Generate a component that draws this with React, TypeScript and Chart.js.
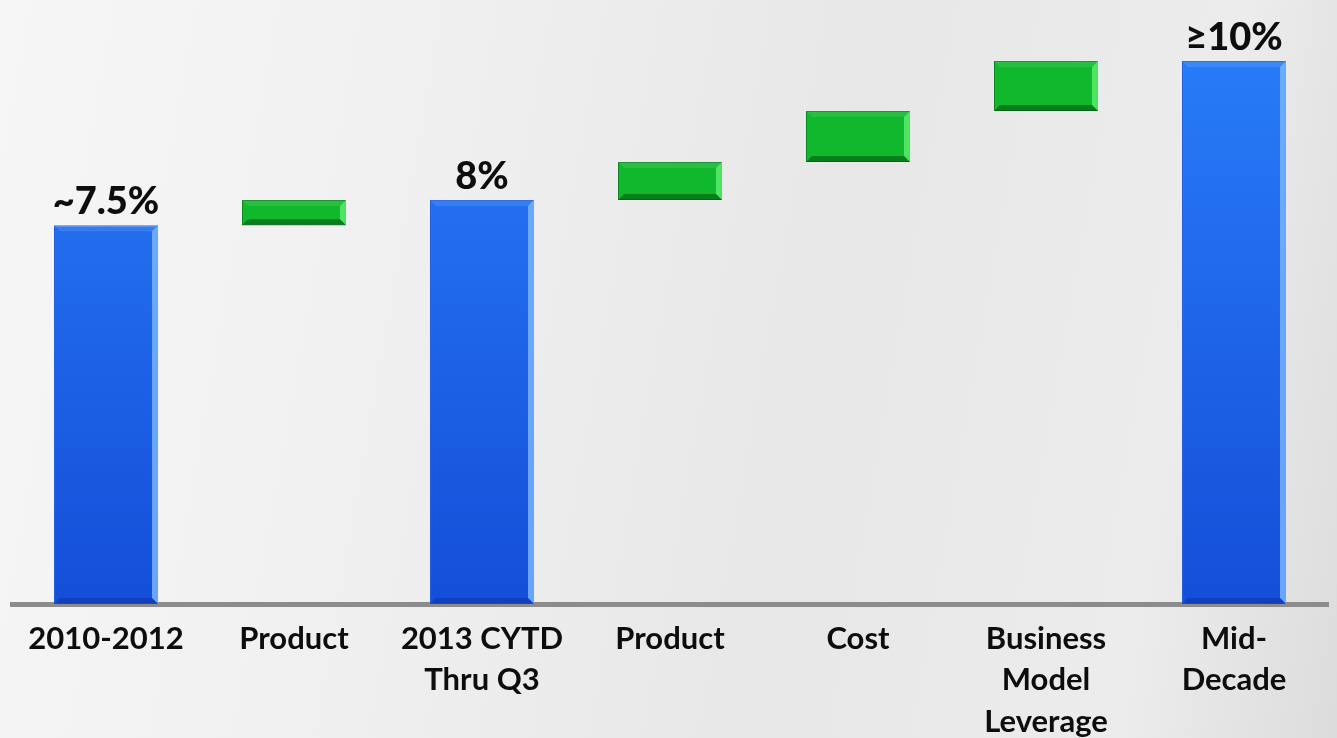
import React, { useEffect, useRef } from "react";
import { Chart, registerables } from "chart.js";

Chart.register(...registerables);

const categories: string[][] = [
  ["2010-2012"],
  ["Product"],
  ["2013 CYTD", "Thru Q3"],
  ["Product"],
  ["Cost"],
  ["Business", "Model", "Leverage"],
  ["Mid-", "Decade"],
];
const barStart = [0, 7.5, 0, 8.0, 8.75, 9.76, 0];
const barEnd = [7.5, 8.0, 8.0, 8.75, 9.76, 10.75, 10.75];
const barKind = ["total", "step", "total", "step", "step", "step", "total"];
const valueLabels = ["~7.5%", "", "8%", "", "", "", "≥10%"];

const FONT = "Lato, 'Open Sans', sans-serif";

export default function App() {
  const ref = useRef<HTMLCanvasElement | null>(null);

  useEffect(() => {
    document.body.style.margin = "0";
    const canvas = ref.current;
    if (!canvas) return;

    const fillFor = (ctx: any) => {
      const chart = ctx.chart;
      const area = chart.chartArea;
      const kind = barKind[ctx.dataIndex];
      if (!area) return kind === "total" ? "#2a7ff8" : "#10b52c";
      if (kind === "total") {
        const g = chart.ctx.createLinearGradient(0, area.top, 0, area.bottom);
        g.addColorStop(0, "#2a80fb");
        g.addColorStop(1, "#144ed8");
        return g;
      }
      return "#0fb82c";
    };

    const bevelPlugin = {
      id: "bevel",
      afterDatasetsDraw(chart: any) {
        const meta = chart.getDatasetMeta(0);
        const c = chart.ctx;
        meta.data.forEach((bar: any, i: number) => {
          const { x, y, base, width } = bar.getProps(["x", "y", "base", "width"], true);
          const left = x - width / 2;
          const right = x + width / 2;
          const top = Math.min(y, base);
          const bottom = Math.max(y, base);
          const kind = barKind[i];
          const light = kind === "total" ? "rgba(120,180,255,0.85)" : "rgba(90,235,110,0.85)";
          const dark = kind === "total" ? "rgba(10,40,140,0.35)" : "rgba(0,80,15,0.55)";
          const bw = 6;
          c.save();
          c.fillStyle = light;
          c.beginPath();
          c.moveTo(right, top);
          c.lineTo(right, bottom);
          c.lineTo(right - bw, bottom - bw);
          c.lineTo(right - bw, top + bw);
          c.closePath();
          c.fill();
          c.fillStyle = dark;
          c.beginPath();
          c.moveTo(left, bottom);
          c.lineTo(right, bottom);
          c.lineTo(right - bw, bottom - bw);
          c.lineTo(left + bw, bottom - bw);
          c.closePath();
          c.fill();
          c.fillStyle = "rgba(255,255,255,0.1)";
          c.beginPath();
          c.moveTo(left, top);
          c.lineTo(right, top);
          c.lineTo(right - bw, top + bw);
          c.lineTo(left + bw, top + bw);
          c.closePath();
          c.fill();
          c.restore();

          const label = valueLabels[i];
          if (label) {
            c.save();
            c.font = `900 38px ${FONT}`;
            c.fillStyle = "#0d0d0d";
            c.textAlign = "center";
            c.textBaseline = "alphabetic";
            c.fillText(label, x, top - 11);
            c.restore();
          }
        });
      },
    };

    const chart = new Chart(canvas, {
      type: "bar",
      data: {
        labels: categories,
        datasets: [
          {
            data: barStart.map((s, i) => [s, barEnd[i]]),
            backgroundColor: fillFor,
            borderColor: (ctx: any) => (barKind[ctx.dataIndex] === "total" ? "#1a5fe0" : "#08861f"),
            borderWidth: 1,
            borderSkipped: false,
            barPercentage: 0.553,
            categoryPercentage: 1,
          },
        ],
      },
      options: {
        responsive: false,
        animation: false,
        maintainAspectRatio: false,
        layout: { padding: { left: 12, right: 9, top: 3, bottom: 0 } },
        plugins: {
          legend: { display: false },
          tooltip: { enabled: false },
        },
        scales: {
          x: {
            grid: { display: false },
            border: { display: true, color: "#8c8c8c", width: 5 },
            ticks: {
              color: "#0d0d0d",
              font: { family: FONT, size: 31, weight: "bold", lineHeight: 1.34 },
              padding: 6,
              maxRotation: 0,
              autoSkip: false,
            },
            afterFit: (scale: any) => {
              scale.height = 134;
            },
          },
          y: {
            display: false,
            min: 0,
            max: 11.9,
          },
        },
      },
      plugins: [bevelPlugin],
    });

    return () => chart.destroy();
  }, []);

  return (
    <div
      style={{
        position: "fixed",
        left: 0,
        top: 0,
        width: 1337,
        height: 738,
        background:
          "linear-gradient(100deg, #f6f6f6 0%, #f0f0f0 30%, #e7e7e7 60%, #ececec 85%, #dcdcdc 100%)",
      }}
    >
      <canvas ref={ref} width={1337} height={738} style={{ display: "block" }} />
    </div>
  );
}
